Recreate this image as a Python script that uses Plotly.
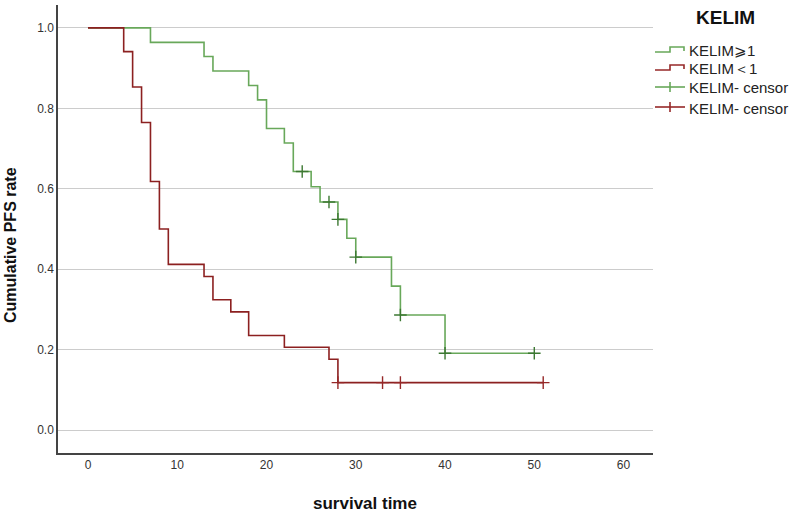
import plotly.graph_objects as go

# ---- data ----
hi_time = [0, 7, 13, 14, 18, 19, 20, 22, 23, 25, 26, 28, 29, 30, 34, 35, 40, 50]
hi_surv = [1.0, 0.964, 0.929, 0.893, 0.857, 0.821, 0.750, 0.714, 0.643, 0.605,
           0.567, 0.524, 0.477, 0.430, 0.358, 0.286, 0.191, 0.191]
hi_cens_time = [24, 27, 28, 30, 35, 40, 50]
hi_cens_surv = [0.643, 0.567, 0.524, 0.430, 0.286, 0.191, 0.191]

lo_time = [0, 4, 5, 6, 7, 8, 9, 13, 14, 16, 18, 22, 27, 28, 51]
lo_surv = [1.0, 0.941, 0.853, 0.765, 0.618, 0.500, 0.412, 0.382, 0.324, 0.294,
           0.235, 0.206, 0.176, 0.118, 0.118]
lo_cens_time = [28, 33, 35, 51]
lo_cens_surv = [0.118, 0.118, 0.118, 0.118]

x_ticks = [0, 10, 20, 30, 40, 50, 60]
y_ticks = [0.0, 0.2, 0.4, 0.6, 0.8, 1.0]
legend_title = "KELIM"
legend_labels = ["KELIM⩾1", "KELIM＜1", "KELIM- censor", "KELIM- censor"]
x_title = "survival time"
y_title = "Cumulative PFS rate"

GREEN = "rgb(104,168,90)"
GREEN_D = "rgb(60,120,50)"
RED = "rgb(140,32,32)"
RED_D = "rgb(150,40,40)"
FONT = "Liberation Sans, Arial"

fig = go.Figure()
fig.add_trace(go.Scatter(x=hi_time, y=hi_surv, mode="lines", line=dict(color=GREEN, width=1.6, shape="hv"),
                         showlegend=False, hoverinfo="skip"))
fig.add_trace(go.Scatter(x=lo_time, y=lo_surv, mode="lines", line=dict(color=RED, width=1.6, shape="hv"),
                         showlegend=False, hoverinfo="skip"))
fig.add_trace(go.Scatter(x=hi_cens_time, y=hi_cens_surv, mode="markers",
                         marker=dict(symbol="cross-thin", size=9, line=dict(color=GREEN_D, width=1.4)),
                         showlegend=False))
fig.add_trace(go.Scatter(x=lo_cens_time, y=lo_cens_surv, mode="markers",
                         marker=dict(symbol="cross-thin", size=9, line=dict(color=RED_D, width=1.4)),
                         showlegend=False))

W, H = 799, 515
L, R, T, B = 58, 653, 5, 453


def px(x):
    return (x - L) / (R - L)


def py(y):
    return (B - y) / (B - T)


shapes = []
annotations = []
# axis titles
annotations.append(dict(x=px(365), y=py(503), xref="paper", yref="paper", text="<b>" + x_title + "</b>",
                        showarrow=False, xanchor="center", yanchor="middle",
                        font=dict(family=FONT, size=17, color="#111")))
annotations.append(dict(x=px(10), y=py(245), xref="paper", yref="paper", text="<b>" + y_title + "</b>",
                        showarrow=False, xanchor="center", yanchor="middle", textangle=-90,
                        font=dict(family=FONT, size=16, color="#111")))
# legend title
annotations.append(dict(x=px(725), y=py(17), xref="paper", yref="paper", text="<b>" + legend_title + "</b>",
                        showarrow=False, xanchor="center", yanchor="middle",
                        font=dict(family=FONT, size=19, color="#111")))
item_y = [49, 67, 87, 107]
colors = [GREEN, RED_D, GREEN, RED_D]
for i, (yy, lab, col) in enumerate(zip(item_y, legend_labels, colors)):
    if i < 2:
        path = "M {},{} L {},{} L {},{} L {},{} L {},{}".format(
            px(655), py(yy + 3), px(670), py(yy + 3), px(670), py(yy - 2), px(684), py(yy - 2), px(684), py(yy + 2))
        shapes.append(dict(type="path", xref="paper", yref="paper", path=path,
                           line=dict(color=col, width=1.6)))
    else:
        shapes.append(dict(type="line", xref="paper", yref="paper", x0=px(655), x1=px(685), y0=py(yy), y1=py(yy),
                           line=dict(color=col, width=1.6)))
        shapes.append(dict(type="line", xref="paper", yref="paper", x0=px(670), x1=px(670), y0=py(yy - 5),
                           y1=py(yy + 5), line=dict(color=col, width=1.6)))
    annotations.append(dict(x=px(687), y=py(yy + 1), xref="paper", yref="paper", text=lab, showarrow=False,
                            xanchor="left", yanchor="middle",
                            font=dict(family=FONT, size=15, color="#222")))

fig.update_layout(
    width=W, height=H,
    margin=dict(l=L, r=W - R, t=T, b=H - B),
    paper_bgcolor="white", plot_bgcolor="white",
    shapes=shapes, annotations=annotations,
    showlegend=False,
    font=dict(family=FONT, color="#333"),
    xaxis=dict(range=[-3.36, 63.3], tickvals=x_ticks, showgrid=False, zeroline=False,
               showline=True, linecolor="#444", linewidth=1.5, ticks="",
               tickfont=dict(size=12, color="#333")),
    yaxis=dict(range=[-0.057, 1.057], tickvals=y_ticks, tickformat=".1f", showgrid=True,
               gridcolor="#cccccc", gridwidth=1, zeroline=False,
               showline=True, linecolor="#444", linewidth=1.5, ticks="",
               tickfont=dict(size=12, color="#333")),
)

fig.write_html("out.html")
